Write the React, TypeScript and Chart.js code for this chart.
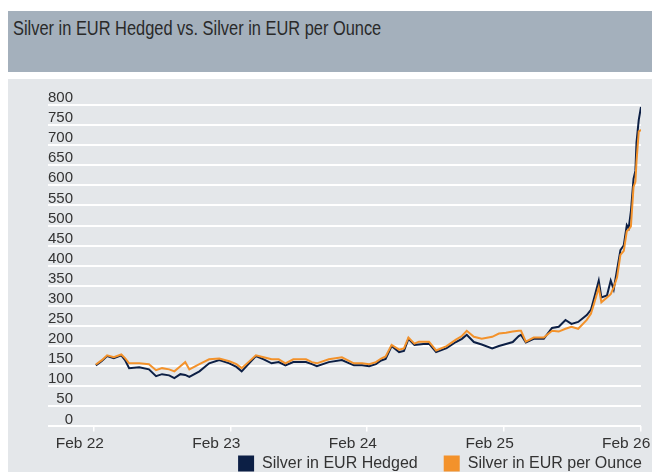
import React, { useEffect, useRef } from 'react';
import { Chart, registerables } from 'chart.js';

Chart.register(...registerables);

const TITLE = 'Silver in EUR Hedged vs. Silver in EUR per Ounce';
const SERIES_LABELS = ['Silver in EUR Hedged', 'Silver in EUR per Ounce'];

const dates = [
  '2022-02-06', '2022-02-22', '2022-03-08', '2022-03-26', '2022-04-15', '2022-04-25',
  '2022-05-06', '2022-06-02', '2022-06-28', '2022-07-17', '2022-08-02', '2022-08-21',
  '2022-09-04', '2022-09-20', '2022-10-03', '2022-10-14', '2022-11-10', '2022-12-06',
  '2023-01-02', '2023-01-29', '2023-02-17', '2023-03-03', '2023-03-21', '2023-04-10',
  '2023-05-01', '2023-05-22', '2023-06-10', '2023-06-28', '2023-07-19', '2023-08-22',
  '2023-09-07', '2023-09-20', '2023-10-22', '2023-11-26', '2023-12-28', '2024-01-19',
  '2024-02-07', '2024-02-25', '2024-03-10', '2024-03-22', '2024-04-07', '2024-04-27',
  '2024-05-10', '2024-05-22', '2024-06-07', '2024-06-19', '2024-07-01', '2024-07-16',
  '2024-08-04', '2024-09-01', '2024-09-26', '2024-10-12', '2024-10-25', '2024-11-13',
  '2024-12-04', '2025-01-01', '2025-01-19', '2025-02-07', '2025-02-25', '2025-03-13',
  '2025-03-19', '2025-04-01', '2025-04-22', '2025-05-19', '2025-06-10', '2025-06-28',
  '2025-07-16', '2025-08-01', '2025-08-19', '2025-09-11', '2025-09-22', '2025-09-30',
  '2025-10-13', '2025-10-20', '2025-11-04', '2025-11-14', '2025-11-22', '2025-12-01',
  '2025-12-10', '2025-12-19', '2025-12-27', '2026-01-01', '2026-01-07', '2026-01-14',
  '2026-01-19', '2026-01-22', '2026-01-28', '2026-02-03',
];

const hedged = [
  152, 163, 175, 170, 177, 165,
  145, 147, 142, 125, 130, 127,
  120, 130, 128, 123, 137, 157,
  165, 157, 148, 137, 155, 175,
  167, 157, 160, 152, 160, 160,
  155, 150, 160, 165, 152, 152,
  150, 155, 164, 168, 200, 185,
  188, 218, 203, 204, 205, 206,
  185, 195, 210, 218, 228, 210,
  204, 194, 200, 205, 210, 225,
  228, 209, 218, 218, 245, 248,
  265, 255, 260, 277, 290, 317,
  363, 321, 326, 363, 341, 390,
  439, 451, 501, 493, 535, 616,
  636, 707, 763, 795,
];

const eurOunce = [
  154, 165, 177, 172, 179, 170,
  157, 157, 155, 140, 145, 142,
  137, 150, 160, 142, 155, 167,
  169, 162, 155, 145, 160, 177,
  172, 167, 167, 157, 167, 167,
  160, 157, 167, 172, 157, 157,
  155, 160, 169, 174, 203, 191,
  194, 221, 206, 211, 211, 211,
  189, 200, 216, 225, 238, 223,
  218, 223, 231, 233, 236, 238,
  238, 211, 221, 221, 238, 236,
  243, 248, 243, 265, 280, 304,
  346, 309, 321, 329, 346, 371,
  427, 437, 486, 490, 498, 596,
  609, 660, 734, 738,
];

const xTickDates = ['2022-02-01', '2023-02-01', '2024-02-01', '2025-02-01', '2026-02-01'];
const xTickLabels = ['Feb 22', 'Feb 23', 'Feb 24', 'Feb 25', 'Feb 26'];
const X_MIN_DATE = '2021-10-01';
const X_MAX_DATE = '2026-02-03';
const Y_MIN = 0;
const Y_MAX = 800;
const Y_STEP = 50;

const NAVY = '#0c1f45';
const ORANGE = '#f3922b';
const TEXT = '#333333';

const toTs = (s: string) => Date.parse(s + 'T00:00:00Z');

// pulls the legend up so it sits right under the axis line, like the reference
const legendLift = {
  id: 'legendLift',
  afterLayout(chart: any) {
    const l = chart.legend;
    if (!l) return;
    const dy = l.top - (chart.chartArea.bottom + 3);
    l.top -= dy;
    l.bottom -= dy;
  },
};

export default function App() {
  const canvasRef = useRef<HTMLCanvasElement | null>(null);

  useEffect(() => {
    if (!canvasRef.current) return;
    const family = '"Liberation Sans", Arial, sans-serif';
    const chart = new Chart(canvasRef.current, {
      type: 'line',
      data: {
        datasets: [
          {
            label: SERIES_LABELS[0],
            data: dates.map((d, i) => ({ x: toTs(d), y: hedged[i] })),
            borderColor: NAVY,
            backgroundColor: NAVY,
            borderWidth: 2,
            pointRadius: 0,
            tension: 0,
            order: 1,
          },
          {
            label: SERIES_LABELS[1],
            data: dates.map((d, i) => ({ x: toTs(d), y: eurOunce[i] })),
            borderColor: ORANGE,
            backgroundColor: ORANGE,
            borderWidth: 2,
            pointRadius: 0,
            tension: 0,
            order: 0,
          },
        ],
      },
      plugins: [legendLift],
      options: {
        responsive: false,
        animation: false,
        layout: { padding: { left: 40, top: 26, right: 0, bottom: 5 } },
        plugins: {
          legend: {
            position: 'bottom',
            align: 'end',
            labels: {
              boxWidth: 16,
              boxHeight: 16,
              padding: 26,
              color: TEXT,
              font: { family, size: 16 },
              sort: (a: any, b: any) => a.datasetIndex - b.datasetIndex,
              generateLabels: (c: any) =>
                (Chart.defaults.plugins.legend.labels.generateLabels as any)(c).map((l: any) => ({
                  ...l,
                  lineWidth: 0,
                })),
            },
          },
          tooltip: { enabled: false },
        },
        scales: {
          x: {
            type: 'linear',
            min: toTs(X_MIN_DATE),
            max: toTs(X_MAX_DATE),
            afterBuildTicks: (s: any) => {
              s.ticks = xTickDates.map((d) => ({ value: toTs(d) }));
            },
            ticks: {
              align: 'end',
              labelOffset: 10,
              padding: 3,
              autoSkip: false,
              maxRotation: 0,
              color: TEXT,
              font: { family, size: 15.5 },
              callback: (v: any) => {
                const i = xTickDates.findIndex((d) => toTs(d) === v);
                return i >= 0 ? xTickLabels[i] : '';
              },
            },
            grid: { drawOnChartArea: false, drawTicks: true, tickLength: 5, color: '#ffffff', lineWidth: 1.5 },
            border: { display: false },
          },
          y: {
            min: Y_MIN,
            max: Y_MAX,
            ticks: {
              stepSize: Y_STEP,
              autoSkip: false,
              mirror: true,
              crossAlign: 'far',
              padding: 0,
              labelOffset: -7,
              color: TEXT,
              font: { family, size: 15 },
            },
            grid: { color: '#ffffff', lineWidth: 2, drawTicks: false },
            border: { display: false },
          },
          yRight: {
            position: 'right',
            display: true,
            grid: { display: false },
            ticks: { display: false },
            border: { display: false },
            afterFit: (s: any) => {
              s.width = 27;
            },
          },
        },
      },
    } as any);
    return () => chart.destroy();
  }, []);

  return (
    <div style={{ position: 'relative', width: 652, height: 464, overflow: 'hidden' }}>
      <div
        style={{
          position: 'absolute',
          top: 3,
          left: 0,
          width: 652,
          height: 61,
          background: '#a4b0bc',
        }}
      >
        <div
          style={{
            position: 'absolute',
            top: 7,
            left: 5,
            fontFamily: '"Liberation Sans", Arial, sans-serif',
            fontSize: 20,
            lineHeight: '20px',
            color: '#2a2a2a',
            whiteSpace: 'nowrap',
            transform: 'scaleX(0.82)',
            transformOrigin: 'left top',
          }}
        >
          {TITLE}
        </div>
      </div>
      <div
        style={{
          position: 'absolute',
          top: 71,
          left: 0,
          width: 652,
          height: 420,
          background: '#e4e7ea',
        }}
      />
      <canvas
        ref={canvasRef}
        width={660}
        height={434}
        style={{ position: 'absolute', top: 71, left: 0, width: 660, height: 434 }}
      />
    </div>
  );
}
